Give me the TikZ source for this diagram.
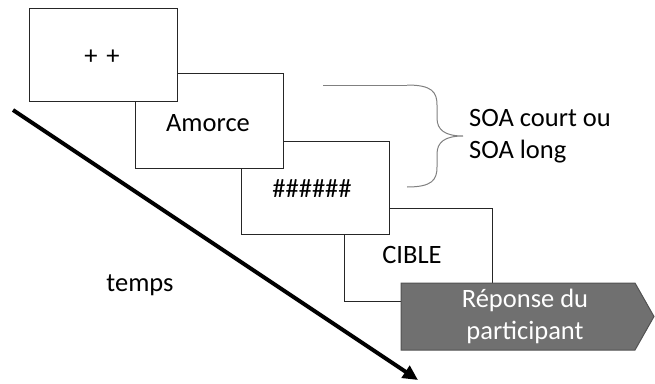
\documentclass[tikz,border=0pt]{standalone}
\usepackage{fontspec}
\setmainfont{Carlito}
\usetikzlibrary{arrows.meta}
\begin{document}
\begin{tikzpicture}[x=1pt,y=-1pt,
  screen/.style={draw=black!85,line width=1pt,fill=white,rectangle,minimum width=148pt,minimum height=93pt,inner sep=0pt},
  lbl/.style={font=\fontsize{26.5}{32}\selectfont,inner sep=0pt},
  bracecol/.style={draw=black!50,line width=1pt}]
\useasboundingbox (0,0) rectangle (655,383);
% screens, back to front
\node[screen] (cible) at (418,254.5) {};
\node[screen] (mask) at (315,188) {};
\node[screen,minimum height=95pt] (amorce) at (209,120.5) {};
\node[screen] (fix) at (103,54.5) {};
\node[lbl] at (102,57) {+~\kern3pt+};
\node[lbl] at (208,123) {Amorce};
\node[lbl] at (312,189) {\#\#\#\#\#\#};
\node[lbl] at (412,255) {CIBLE};
% response shape
\fill[fill=black!56,draw=black!68,line width=1pt] (401,283) -- (635,283) -- (654,316.5) -- (635,350) -- (401,350) -- cycle;
\node[lbl,text=white,align=center] (rep) at (525,316.5) {Réponse du\\participant};
% brace
\coordinate (b0) at (323,85);
\coordinate (b1) at (407,85);
\draw[bracecol] (b0) -- (b1);
\draw[bracecol] (b1) .. controls (432,85) and (437,92) .. (437,105) -- (437,118) .. controls (437,130) and (445,136) .. (463,136) .. controls (445,136) and (437,142) .. (437,154) -- (437,167) .. controls (437,180) and (432,187) .. (407,187);
\node[lbl,anchor=west,align=left] (soa) at (469,136) {SOA court ou\\SOA long};
% time arrow
\coordinate (t0) at (13,110);
\coordinate (t1) at (418,380);
\draw[line width=4pt,-{Triangle[length=15pt,width=14pt]}] (t0) -- (t1);
\node[lbl] (temps) at (140,285) {temps};
\end{tikzpicture}
\end{document}
